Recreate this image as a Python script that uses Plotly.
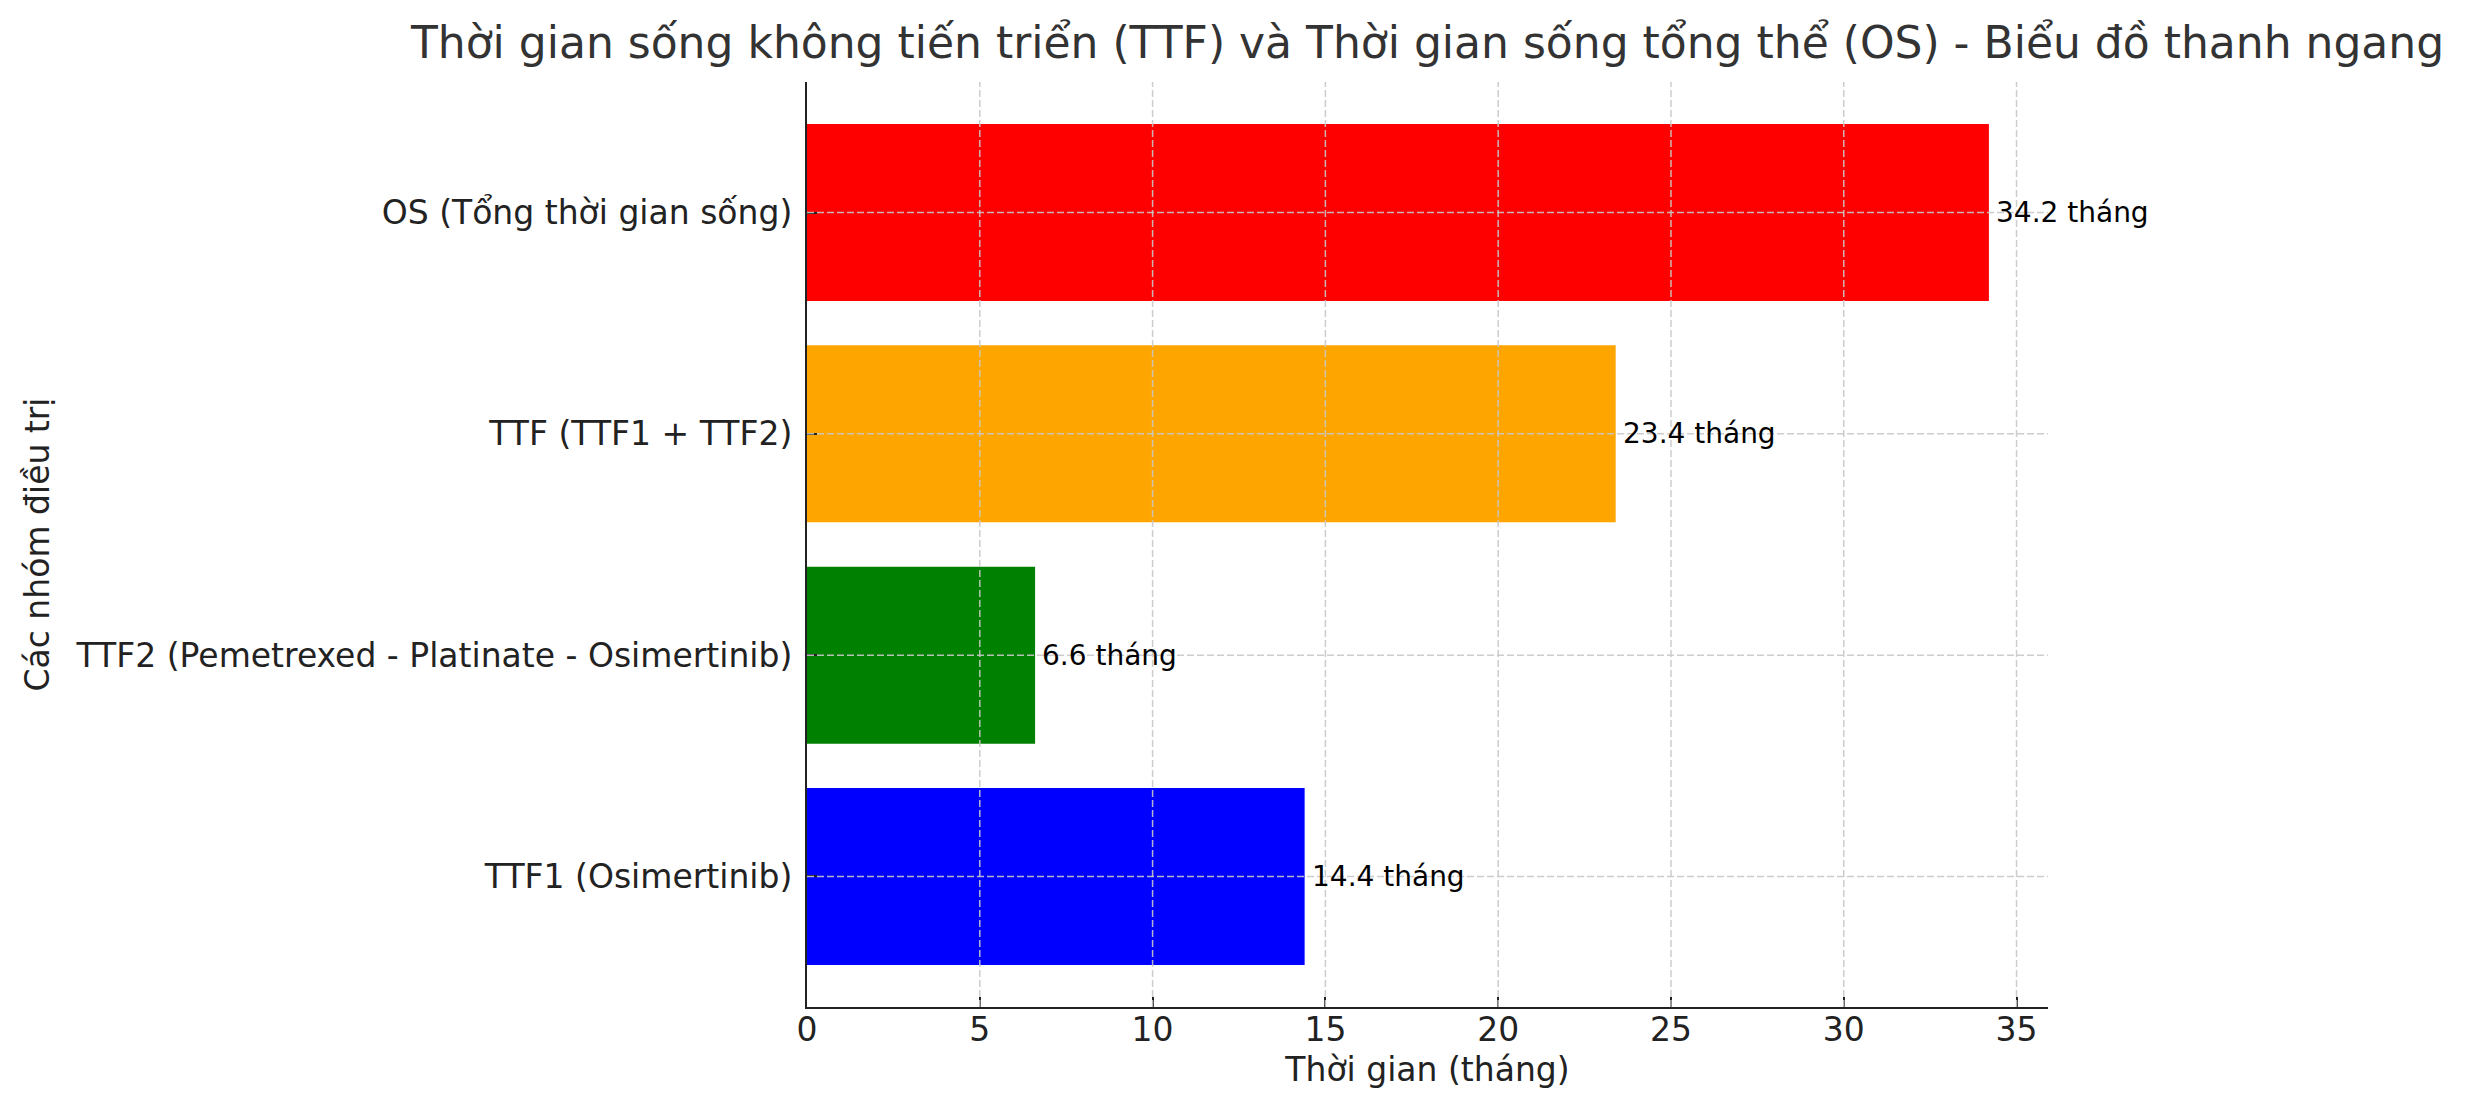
import plotly.graph_objects as go

# data (bottom -> top, as drawn)
groups = [
    'TTF1 (Osimertinib)',
    'TTF2 (Pemetrexed - Platinate - Osimertinib)',
    'TTF (TTF1 + TTF2)',
    'OS (Tổng thời gian sống)',
]
months = [14.4, 6.6, 23.4, 34.2]
bar_colors = ['#0000ff', '#008000', '#ffa500', '#ff0000']
x_ticks = [0, 5, 10, 15, 20, 25, 30, 35]

font_family = 'DejaVu Sans'
grid_color = 'rgba(200,200,200,0.9)'
ink = '#222222'

fig = go.Figure()
fig.add_trace(go.Bar(
    x=months, y=groups, orientation='h',
    marker=dict(color=bar_colors, line=dict(width=0)),
    width=0.8, showlegend=False, hoverinfo='x+y',
))

# value labels right of bars
for g, v in zip(groups, months):
    fig.add_annotation(
        x=v, y=g, xref='x', yref='y', text=f'{v} tháng',
        showarrow=False, xanchor='left', yanchor='middle', xshift=5,
        font=dict(family=font_family, size=28, color='#000000'),
    )

# dashed grid drawn above the bars (as in the reference)
for t in x_ticks[1:]:
    fig.add_shape(type='line', xref='x', yref='paper', x0=t, x1=t, y0=0, y1=1,
                  layer='above', line=dict(color=grid_color, width=1.5, dash='7px,3px'))
for g in groups:
    fig.add_shape(type='line', xref='paper', yref='y', x0=0, x1=1, y0=g, y1=g,
                  layer='above', line=dict(color=grid_color, width=1.5, dash='7px,3px'))

fig.update_layout(
    width=2466, height=1107,
    margin=dict(l=799, r=426, t=74, b=108),
    paper_bgcolor='white', plot_bgcolor='white',
    font=dict(family=font_family, color=ink),
    title=dict(
        text='Thời gian sống không tiến triển (TTF) và Thời gian sống tổng thể (OS) - Biểu đồ thanh ngang',
        font=dict(family=font_family, size=44, color='#333333'),
        x=0.5, xref='paper', xanchor='center',
        y=1 - 35 / 1107, yref='container', yanchor='middle',
    ),
    xaxis=dict(
        range=[0, max(months) * 1.05],
        tickmode='array', tickvals=x_ticks,
        showgrid=False, zeroline=False, layer='above traces',
        showline=True, linecolor=ink, linewidth=2.2,
        ticks='inside', ticklen=10, tickwidth=2, tickcolor=ink,
        ticklabelstandoff=-8,
        tickfont=dict(size=33, color=ink),
        title=dict(text='Thời gian (tháng)', font=dict(size=33, color=ink), standoff=10),
    ),
    yaxis=dict(
        type='category', categoryorder='array', categoryarray=groups,
        range=[-0.59, len(groups) - 1 + 0.59],
        showgrid=False, zeroline=False, layer='above traces',
        showline=True, linecolor=ink, linewidth=2.2,
        ticks='inside', ticklen=10, tickwidth=2, tickcolor=ink,
        ticklabelstandoff=6,
        tickfont=dict(size=33, color=ink),
        title=dict(text='Các nhóm điều trị', font=dict(size=33, color=ink), standoff=16),
    ),
)

fig.write_html('out.html')
